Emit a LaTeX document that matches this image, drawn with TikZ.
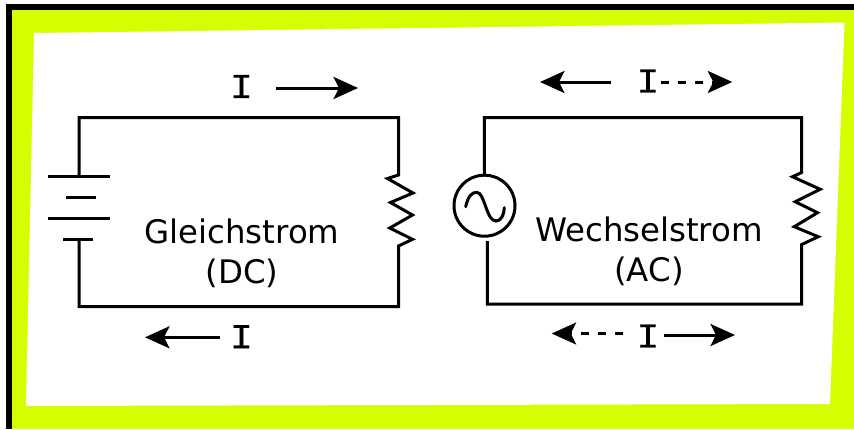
\documentclass[tikz,border=0pt]{standalone}
\usepackage{fontspec}
\setmainfont{DejaVu Sans}
\newfontfamily\curmono[FakeStretch=1.2,FakeBold=0.6]{DejaVu Sans Mono}
\usetikzlibrary{arrows.meta}
\definecolor{lime}{HTML}{D4FF00}
\tikzset{
  wire/.style={line width=3pt,line join=miter,miter limit=10,black},
  plate/.style={line width=3pt,black},
  flow/.style={line width=3pt,-{Stealth[length=24.5pt,width=22pt,inset=5.5pt]},black},
  flowdash/.style={flow,dash pattern=on 8pt off 9pt},
  cursym/.style={font=\curmono\fontsize{31.5}{31.5}\selectfont,inner sep=0pt},
  caption text/.style={font=\fontsize{32.4}{32.4}\selectfont,anchor=base,inner sep=0pt},
  source/.style={circle,draw,line width=3pt,minimum size=61pt,inner sep=0pt,outer sep=0pt}
}
\begin{document}
\begin{tikzpicture}[x=1pt,y=-1pt]
\useasboundingbox (0,0) rectangle (854,429);
% frame
\fill[white] (0,0) rectangle (854,429);
\fill[black] (6,4) rectangle (854,429);
\fill[lime] (12,10) rectangle (854,429);
\fill[white] (34,33) -- (844.5,22.5) -- (830,404) -- (26,406) -- cycle;
% DC circuit
\coordinate (dcTL) at (79,117.5);
\coordinate (dcTR) at (398.5,117.5);
\coordinate (dcBR) at (398.5,306.5);
\coordinate (dcBL) at (79,306.5);
\coordinate (batTop) at (79,176.7);
\coordinate (batBot) at (79,239);
\coordinate (p1a) at (48,176.7); \coordinate (p1b) at (110,176.7);
\coordinate (p2a) at (66,197.7); \coordinate (p2b) at (95.5,197.7);
\coordinate (p3a) at (48,218.3); \coordinate (p3b) at (110,218.3);
\coordinate (p4a) at (63,239);   \coordinate (p4b) at (92.5,239);
\draw[plate] (p1a) -- (p1b);
\draw[plate] (p2a) -- (p2b);
\draw[plate] (p3a) -- (p3b);
\draw[plate] (p4a) -- (p4b);
\draw[wire] (batTop) -- (dcTL) -- (dcTR) -- (398.5,175) -- (387.5,178.5) -- (413,193) -- (390.5,202.5)
  -- (412.5,215) -- (389.8,228) -- (412.5,239.3) -- (398.5,246) -- (dcBR) -- (dcBL) -- (batBot);
% AC circuit
\node[source] (src) at (484.5,205.7) {};
\draw[line width=3pt,line cap=round] (465.7,206.7) .. controls (468,196) and (472,192.3) .. (476.7,192.3)
  .. controls (485,192.3) and (486,221) .. (496,221) .. controls (501,221) and (504,215) .. (504.3,207.7);
\coordinate (acTL) at (484.3,117.5);
\coordinate (acTR) at (801.7,117.5);
\coordinate (acBR) at (801.7,304);
\coordinate (acBL) at (487.3,304);
\coordinate (acLow) at (487.3,241);
\draw[wire] (src.north) -- (acTL) -- (acTR) -- (801.7,172.5) -- (792.5,176.7) -- (820.2,189.3) -- (795.2,201.7)
  -- (817.5,212.7) -- (794.2,226.7) -- (818.2,236.7) -- (801.7,244.5) -- (acBR) -- (acBL) -- (acLow);
% labels
\node[caption text] (dcA) at (242,243) {Gleichstrom};
\node[caption text] (dcB) at (242,283) {(DC)};
\node[caption text] (acA) at (649,241) {Wechselstrom};
\node[caption text] (acB) at (649,281) {(AC)};
% currents
\node[cursym] (i1) at (241.5,86.5) {I};
\node[cursym] (i2) at (241.5,336.7) {I};
\node[cursym] (i3) at (648,81) {I};
\node[cursym] (i4) at (648,336) {I};
\coordinate (a1s) at (276,88);    \coordinate (a1e) at (358,88);
\coordinate (a2s) at (220,337.3); \coordinate (a2e) at (145,337.3);
\coordinate (a3s) at (610.7,82);  \coordinate (a3e) at (540,82);
\coordinate (a4s) at (661,82);    \coordinate (a4e) at (732.3,82);
\coordinate (a5s) at (622.7,333.5); \coordinate (a5e) at (551.7,333.5);
\coordinate (a6s) at (664,335);   \coordinate (a6e) at (735,335);
\draw[flow] (a1s) -- (a1e);
\draw[flow] (a2s) -- (a2e);
\draw[flow] (a3s) -- (a3e);
\draw[flowdash] (a4s) -- (a4e);
\draw[flowdash] (a5s) -- (a5e);
\draw[flow] (a6s) -- (a6e);
\end{tikzpicture}
\end{document}
